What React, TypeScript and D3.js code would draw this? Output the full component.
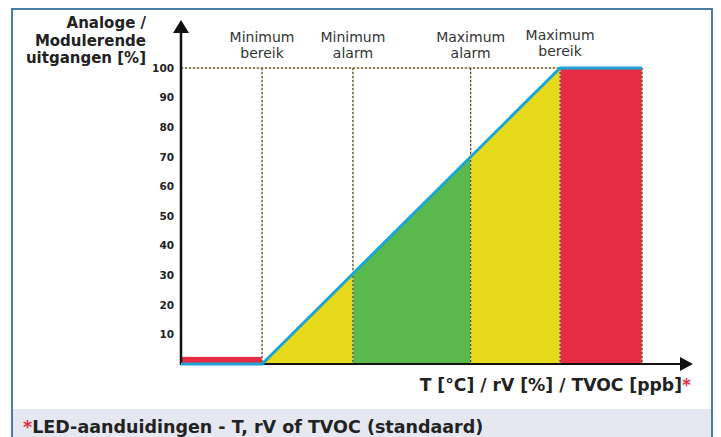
import * as d3 from "d3";

// ramp of the analog output (x in % of the measuring range, y in % output)
const curveX = [-27.2, 0, 100, 127.5];
const curveY = [0, 0, 100, 100];

// vertical markers
const markerNames = [
  ["Minimum", "bereik"],
  ["Minimum", "alarm"],
  ["Maximum", "alarm"],
  ["Maximum", "bereik"],
];
const markerValues = [0, 30.5, 70, 100];
const redEnd = 127.5;

// coloured zones under the ramp
const zoneFrom = [0, 30.5, 70];
const zoneTo = [30.5, 70, 100];
const zoneColor = ["#e6da1a", "#5ab94b", "#e6da1a"];

// red LED zones (below min / above max)
const redFrom = [-27.2, 100];
const redTo = [0, 127.5];
const redValue = [2.4, 100];

const yTicks = [10, 20, 30, 40, 50, 60, 70, 80, 90, 100];
const yTitle = ["Analoge /", "Modulerende", "uitgangen [%]"];
const xTitle = "T [°C] / rV [%] / TVOC [ppb]";
const footer = "LED-aanduidingen - T, rV of TVOC (standaard)";

const W = 721;
const H = 437;
const font = "'DejaVu Sans', Verdana, sans-serif";
const RED = "#e52c43";
const BLUE = "#1ba6d6";

export default function App() {
  const x = d3.scaleLinear().domain([-27.2, 144.6]).range([181, 693]);
  const y = d3.scaleLinear().domain([0, 100]).range([364, 68]);
  const ramp = d3.scaleLinear().domain(curveX).range(curveY);

  const area = d3
    .area<number>()
    .x((d) => x(d))
    .y0(y(0))
    .y1((d) => y(ramp(d)));

  const line = d3
    .line<number>()
    .x((d) => x(d))
    .y((d, i) => y(curveY[i]));

  const dashLine = (x1: number, y1: number, x2: number, y2: number, k: string) => (
    <g key={k}>
      <line x1={x1} y1={y1} x2={x2} y2={y2} stroke="#d8cc8a" strokeWidth={1} />
      <line x1={x1} y1={y1} x2={x2} y2={y2} stroke="#2a2a2a" strokeWidth={1} strokeDasharray="2,2" />
    </g>
  );

  return (
    <svg width={W} height={H} style={{ position: "absolute", left: 0, top: 0 }} fontFamily={font}>
      <rect x={0} y={0} width={W} height={H} fill="#fff" />
      <rect x={13} y={409} width={698} height={30} fill="#e5e8f1" />
      <rect x={12} y={9} width={700} height={440} fill="none" stroke="#4a7ba8" strokeWidth={2} />

      {/* zones */}
      {zoneFrom.map((f, i) => (
        <path key={"z" + i} d={area([f, zoneTo[i]]) || ""} fill={zoneColor[i]} />
      ))}
      {redFrom.map((f, i) => (
        <rect
          key={"r" + i}
          x={x(f)}
          y={y(redValue[i])}
          width={x(redTo[i]) - x(f)}
          height={y(0) - y(redValue[i])}
          fill={RED}
        />
      ))}

      {/* dashed guides */}
      {dashLine(x(curveX[0]), y(100), x(100), y(100), "h")}
      {markerValues.map((v, i) => dashLine(x(v), y(100), x(v), y(0), "v" + i))}
      {dashLine(x(redEnd), y(100), x(redEnd), y(0), "ve")}

      {/* axes */}
      <line x1={x(curveX[0])} y1={y(0)} x2={680} y2={y(0)} stroke="#111" strokeWidth={2} />
      <path d={`M680,357 L693,364 L680,371 Z`} fill="#111" />
      <line x1={x(curveX[0])} y1={y(0) + 1} x2={x(curveX[0])} y2={32} stroke="#111" strokeWidth={2.5} />
      <path d={`M173,33 L181,20 L189,33 Z`} fill="#111" />

      {/* ramp line */}
      <path d={line(curveX) || ""} fill="none" stroke={BLUE} strokeWidth={3} />

      {/* y ticks */}
      {yTicks.map((t) => (
        <text
          key={t}
          x={174}
          y={y(t)}
          dy="0.36em"
          textAnchor="end"
          fontSize={10.5}
          fontWeight="bold"
          fill="#222"
        >
          {t}
        </text>
      ))}

      {/* y title */}
      {yTitle.map((s, i) => (
        <text key={s} x={146} y={28 + i * 17.5} textAnchor="end" fontSize={15} fontWeight="bold" fill="#222">
          {s}
        </text>
      ))}

      {/* marker labels */}
      {markerNames.map((m, i) => (
        <text
          key={"m" + i}
          x={x(markerValues[i])}
          y={i === 3 ? 40 : 42}
          textAnchor="middle"
          fontSize={14}
          fill="#333"
        >
          <tspan x={x(markerValues[i])}>{m[0]}</tspan>
          <tspan x={x(markerValues[i])} dy={16}>
            {m[1]}
          </tspan>
        </text>
      ))}

      {/* x title */}
      <text x={691} y={391} textAnchor="end" fontSize={17.2} fontWeight="bold" fill="#222">
        {xTitle}
        <tspan fill={RED}>*</tspan>
      </text>

      {/* footer */}
      <text x={23} y={433} fontSize={17.5} fontWeight="bold" fill="#222">
        <tspan fill={RED}>*</tspan>
        {footer}
      </text>
    </svg>
  );
}
